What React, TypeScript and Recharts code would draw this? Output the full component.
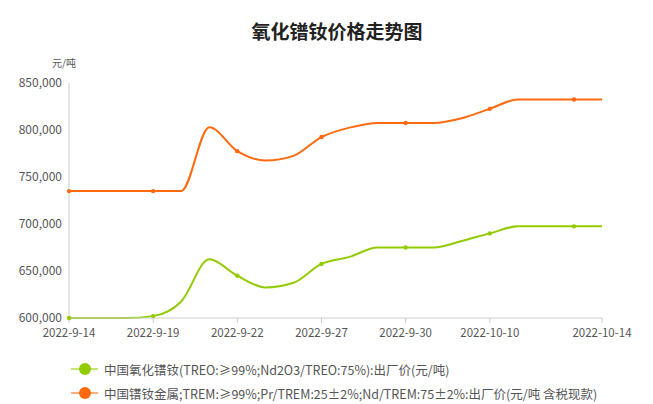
import { LineChart, Line, XAxis, YAxis } from 'recharts'

const dates = [
  '2022-9-14', '2022-9-15', '2022-9-16', '2022-9-19', '2022-9-20', '2022-9-21', '2022-9-22',
  '2022-9-23', '2022-9-26', '2022-9-27', '2022-9-28', '2022-9-29', '2022-9-30', '2022-10-8',
  '2022-10-9', '2022-10-10', '2022-10-11', '2022-10-12', '2022-10-13', '2022-10-14',
]

const oxidePrice = [
  600000, 600000, 600000, 602000, 617500, 662500, 645000, 632500, 637500, 657500,
  665000, 675000, 675000, 675000, 682000, 690000, 697500, 697500, 697500, 697500,
]

const metalPrice = [
  735000, 735000, 735000, 735000, 735000, 803000, 777500, 767500, 772500, 792500,
  802500, 807500, 807500, 807500, 812500, 822500, 832500, 832500, 832500, 832500,
]

const xTicks = ['2022-9-14', '2022-9-19', '2022-9-22', '2022-9-27', '2022-9-30', '2022-10-10', '2022-10-14']
const yTicks = [600000, 650000, 700000, 750000, 800000, 850000]

const OXIDE_NAME = '中国氧化镨钕(TREO:≥99%;Nd2O3/TREO:75%):出厂价(元/吨)'
const METAL_NAME = '中国镨钕金属;TREM:≥99%;Pr/TREM:25±2%;Nd/TREM:75±2%:出厂价(元/吨 含税现款)'

const GREEN = '#92cc00'
const ORANGE = '#ff6a10'
const FONT = '"Noto Sans CJK SC", "Noto Sans", sans-serif'

const data = dates.map((d, i) => ({ date: d, oxide: oxidePrice[i], metal: metalPrice[i] }))

// markers only on every third point, like the label interval
function makeDot(color: string) {
  return (props: any) => {
    const { cx, cy, index } = props
    if (index % 3 !== 0 || index >= dates.length - 1) return <g key={index} />
    return <circle key={index} cx={cx} cy={cy} r={2.2} fill={color} />
  }
}

function LegendBox() {
  const items = [
    { name: OXIDE_NAME, color: GREEN },
    { name: METAL_NAME, color: ORANGE },
  ]
  return (
    <div style={{ position: 'absolute', left: 71, top: 357, fontFamily: FONT }}>
      {items.map((it) => (
        <div key={it.name} style={{ display: 'flex', alignItems: 'center', height: 24 }}>
          <svg width={27} height={14} style={{ marginRight: 6 }}>
            <line x1={0} y1={7} x2={27} y2={7} stroke={it.color} strokeOpacity={0.55} strokeWidth={2} />
            <circle cx={14} cy={7} r={6} fill={it.color} />
          </svg>
          <span style={{ fontSize: 12.5, color: '#555' }}>{it.name}</span>
        </div>
      ))}
    </div>
  )
}

export default function App() {
  return (
    <div style={{ position: 'absolute', left: 0, top: 0, width: 653, height: 404, background: '#fff' }}>
      <div
        style={{
          position: 'absolute', left: 0, top: 17, width: 674, textAlign: 'center',
          fontFamily: FONT, fontWeight: 700, fontSize: 19, color: '#222',
        }}
      >
        氧化镨钕价格走势图
      </div>
      <div style={{ position: 'absolute', left: 52, top: 55, fontFamily: FONT, fontSize: 10, color: '#555' }}>
        元/吨
      </div>
      <LineChart width={653} height={404} data={data} margin={{ top: 83, right: 51, bottom: 56, left: 0 }}>
        <XAxis
          dataKey="date"
          scale="point"
          padding={{ left: 0, right: 0 }}
          ticks={xTicks}
          interval={0}
          height={30}
          axisLine={{ stroke: '#ccc' }}
          tickLine={{ stroke: '#ccc' }}
          tickSize={5}
          tickMargin={6}
          tick={{ fontSize: 11.5, fill: '#555', fontFamily: FONT }}
        />
        <YAxis
          domain={[600000, 850000]}
          ticks={yTicks}
          width={69}
          axisLine={{ stroke: '#ccc' }}
          tickLine={false}
          tickSize={0}
          tickMargin={7}
          tickFormatter={(v) => v.toLocaleString('en-US')}
          tick={{ fontSize: 12, fill: '#555', fontFamily: FONT }}
        />
        <Line
          type="monotone"
          dataKey="oxide"
          name={OXIDE_NAME}
          stroke={GREEN}
          strokeWidth={2}
          dot={makeDot(GREEN)}
          activeDot={false}
          isAnimationActive={false}
        />
        <Line
          type="monotone"
          dataKey="metal"
          name={METAL_NAME}
          stroke={ORANGE}
          strokeWidth={2}
          dot={makeDot(ORANGE)}
          activeDot={false}
          isAnimationActive={false}
        />
      </LineChart>
      <LegendBox />
    </div>
  )
}
